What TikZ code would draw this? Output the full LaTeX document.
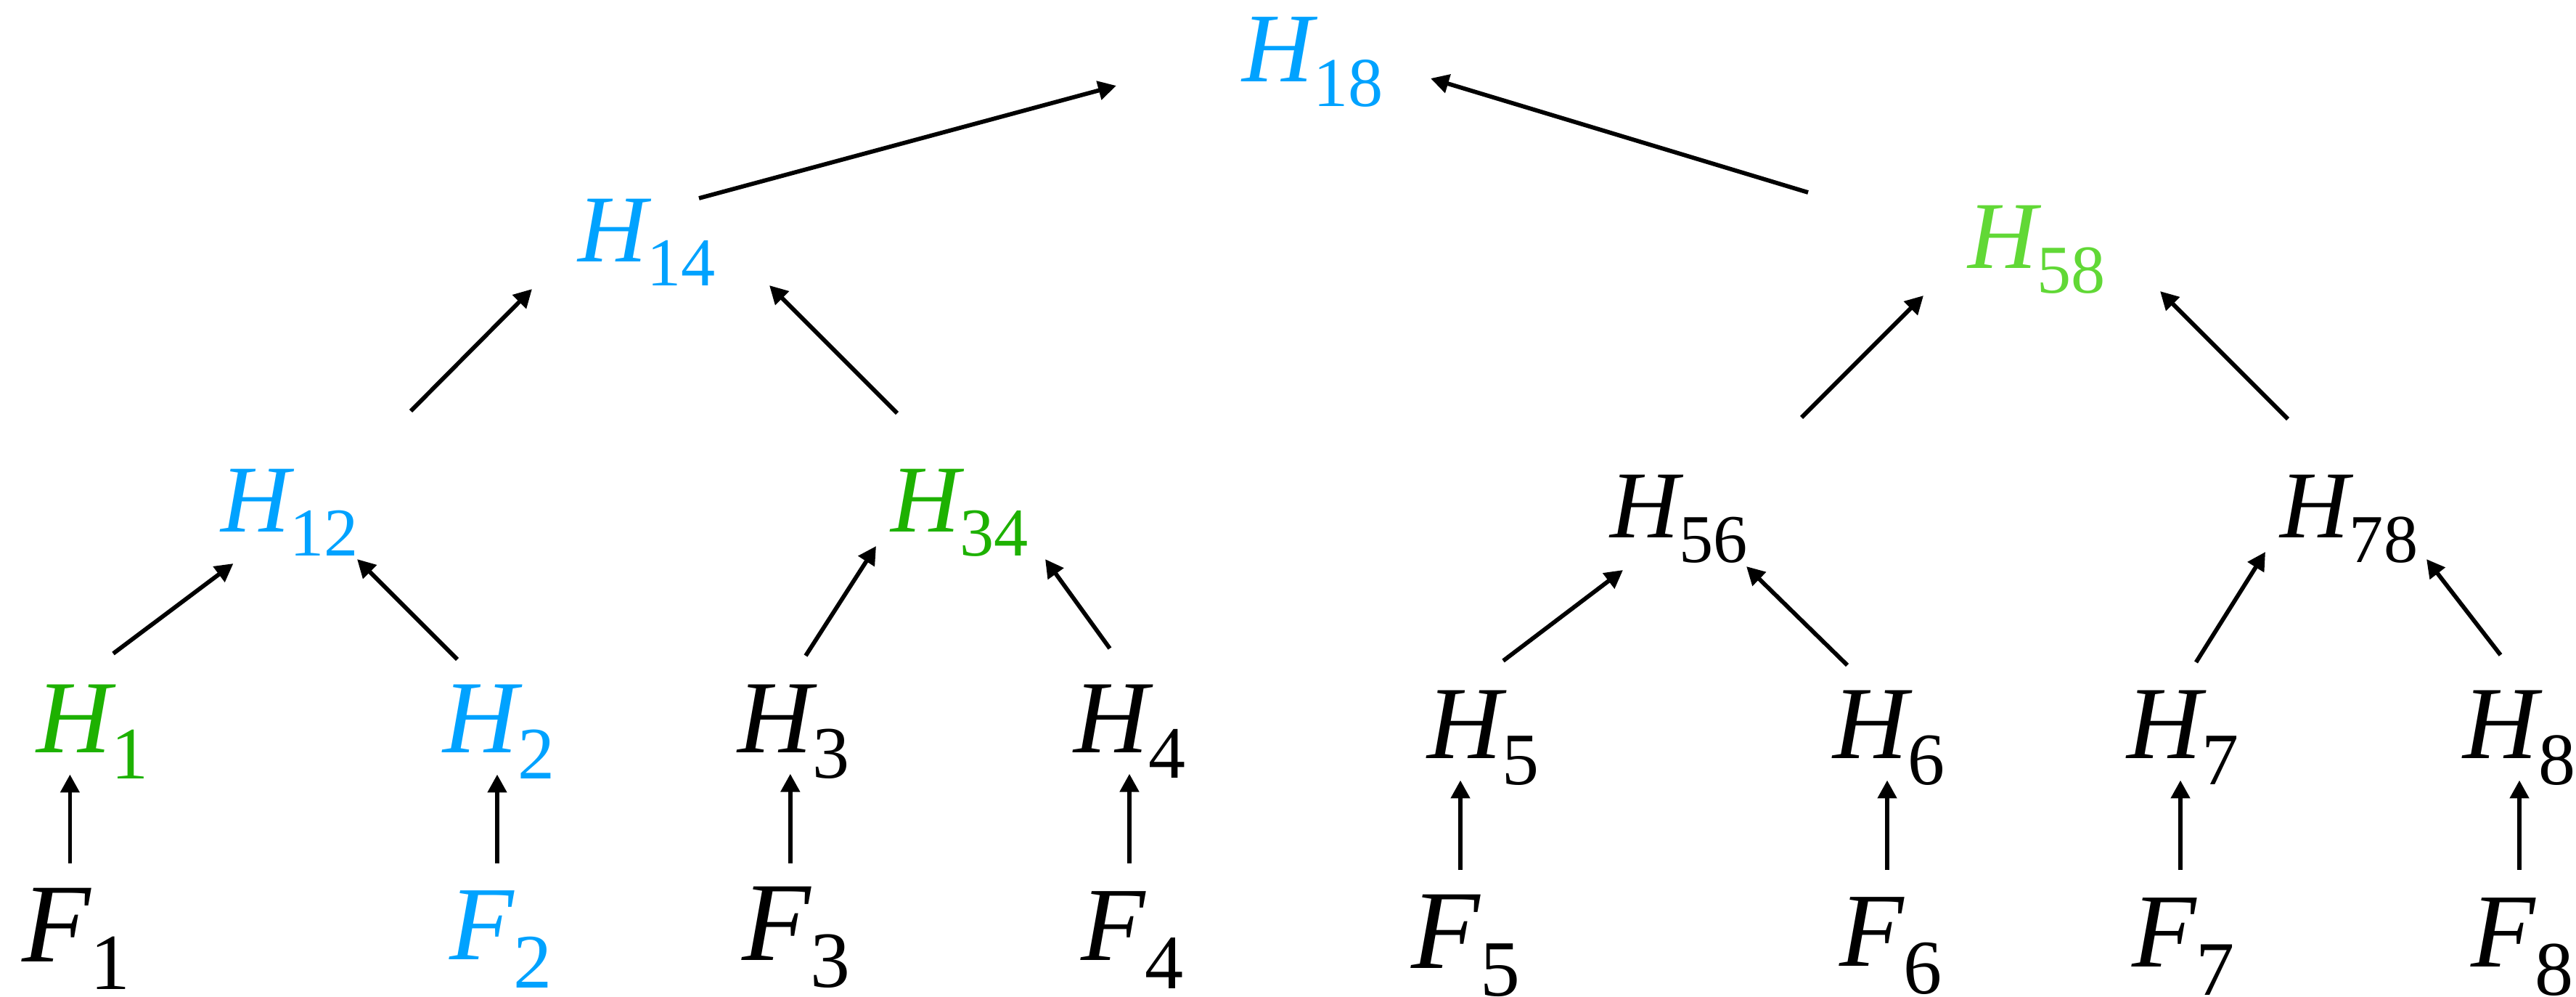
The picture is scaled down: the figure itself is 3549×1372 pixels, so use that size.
\documentclass[tikz,border=0pt]{standalone}
\usepackage{fontspec}
\setmainfont{Liberation Serif}
\usetikzlibrary{arrows.meta}
\definecolor{hblue}{HTML}{00A2FF}
\definecolor{hgreen}{HTML}{1DB100}
\definecolor{hlgreen}{HTML}{61D836}
\newcommand\mklab[5]{{\fontsize{#1}{#1}\selectfont\itshape #4}{\fontsize{#2}{#2}\selectfont\raisebox{-#3}{#5}}}
\newcommand\topL[2]{\mklab{38.6pt}{27.4pt}{9.7pt}{#1}{#2}}
\newcommand\midL[2]{\mklab{37.5pt}{26.8pt}{9.5pt}{#1}{#2}}
\newcommand\leafL[2]{\mklab{40.6pt}{29.0pt}{10.1pt}{#1}{#2}}
\newcommand\fbigL[2]{\mklab{44.0pt}{31.2pt}{10.7pt}{#1}{#2}}
\newcommand\fsmL[2]{\mklab{41.2pt}{30.2pt}{11.0pt}{#1}{#2}}
\tikzset{
  lab/.style={inner sep=0pt, outer sep=0pt, anchor=base west},
  arr/.style={line width=1.65pt, -{Triangle[length=7.1pt,width=7.3pt]}}
}
\begin{document}
\begin{tikzpicture}[x=0.01cm, y=-0.01cm]
\useasboundingbox (0,0) rectangle (3549,1372);
% level 0
\node[lab, text=hblue] (H18) at (1711,112.7) {\topL{H}{18}};
% level 1
\node[lab, text=hblue] (H14) at (796,360.5) {\midL{H}{14}};
\node[lab, text=hlgreen] (H58) at (2711,369.7) {\midL{H}{58}};
% level 2
\node[lab, text=hblue] (H12) at (304,732) {\midL{H}{12}};
\node[lab, text=hgreen] (H34) at (1227,732) {\midL{H}{34}};
\node[lab] (H56) at (2218.6,740.7) {\midL{H}{56}};
\node[lab] (H78) at (3141.6,740.7) {\midL{H}{78}};
% level 3
\node[lab, text=hgreen] (H1) at (50.5,1036.5) {\leafL{H}{1}};
\node[lab, text=hblue] (H2) at (610,1036.5) {\leafL{H}{2}};
\node[lab] (H3) at (1016,1036) {\leafL{H}{3}};
\node[lab] (H4) at (1479,1036) {\leafL{H}{4}};
\node[lab] (H5) at (1966,1044.6) {\leafL{H}{5}};
\node[lab] (H6) at (2525.7,1044.6) {\leafL{H}{6}};
\node[lab] (H7) at (2930.4,1044.6) {\leafL{H}{7}};
\node[lab] (H8) at (3393.9,1044.6) {\leafL{H}{8}};
% level 4
\node[lab] (F1) at (30,1324.5) {\fbigL{F}{1}};
\node[lab, text=hblue] (F2) at (619,1321.5) {\fsmL{F}{2}};
\node[lab] (F3) at (1022.4,1322) {\fbigL{F}{3}};
\node[lab] (F4) at (1489,1322.4) {\fsmL{F}{4}};
\node[lab] (F5) at (1944.8,1333.7) {\fbigL{F}{5}};
\node[lab] (F6) at (2534,1330) {\fsmL{F}{6}};
\node[lab] (F7) at (2937,1331.4) {\fsmL{F}{7}};
\node[lab] (F8) at (3404.4,1331.4) {\fsmL{F}{8}};
% connector end points
\coordinate (F1o) at (96.4,1188.6);  \coordinate (H1i) at (96.4,1066.5);
\coordinate (F2o) at (685,1188.6);   \coordinate (H2i) at (685,1066.5);
\coordinate (F3o) at (1088.8,1188.5);\coordinate (H3i) at (1088.8,1065.6);
\coordinate (F4o) at (1556,1188.5);  \coordinate (H4i) at (1556,1065.6);
\coordinate (F5o) at (2012,1198);    \coordinate (H5i) at (2012,1074.5);
\coordinate (F6o) at (2600,1198);    \coordinate (H6i) at (2600,1074.5);
\coordinate (F7o) at (3004,1198);    \coordinate (H7i) at (3004,1074.5);
\coordinate (F8o) at (3471,1198);    \coordinate (H8i) at (3471,1074.5);
\coordinate (H1o) at (156,900);      \coordinate (H12l) at (321.5,776);
\coordinate (H2o) at (630,908);      \coordinate (H12r) at (492,770);
\coordinate (H3o) at (1110,903);     \coordinate (H34l) at (1207,752);
\coordinate (H4o) at (1529,893);     \coordinate (H34r) at (1440,770);
\coordinate (H5o) at (2071,910);     \coordinate (H56l) at (2236,785);
\coordinate (H6o) at (2545,916);     \coordinate (H56r) at (2406,780);
\coordinate (H7o) at (3025.5,912);   \coordinate (H78l) at (3121,760);
\coordinate (H8o) at (3445,902);     \coordinate (H78r) at (3343,770);
\coordinate (H12o) at (566,566);     \coordinate (H14l) at (733,398);
\coordinate (H34o) at (1236,569);    \coordinate (H14r) at (1060,393);
\coordinate (H56o) at (2482,575);    \coordinate (H58l) at (2650,407);
\coordinate (H78o) at (3152,577);    \coordinate (H58r) at (2976,401);
\coordinate (H14o) at (963,273);     \coordinate (H18l) at (1538,118);
\coordinate (H58o) at (2491,265);    \coordinate (H18r) at (1971,108);
% connectors
\foreach \a/\b in {F1o/H1i,F2o/H2i,F3o/H3i,F4o/H4i,F5o/H5i,F6o/H6i,F7o/H7i,F8o/H8i,
  H1o/H12l,H2o/H12r,H3o/H34l,H4o/H34r,H5o/H56l,H6o/H56r,H7o/H78l,H8o/H78r,
  H12o/H14l,H34o/H14r,H56o/H58l,H78o/H58r,H14o/H18l,H58o/H18r}
  \draw[arr] (\a) -- (\b);
\end{tikzpicture}
\end{document}
